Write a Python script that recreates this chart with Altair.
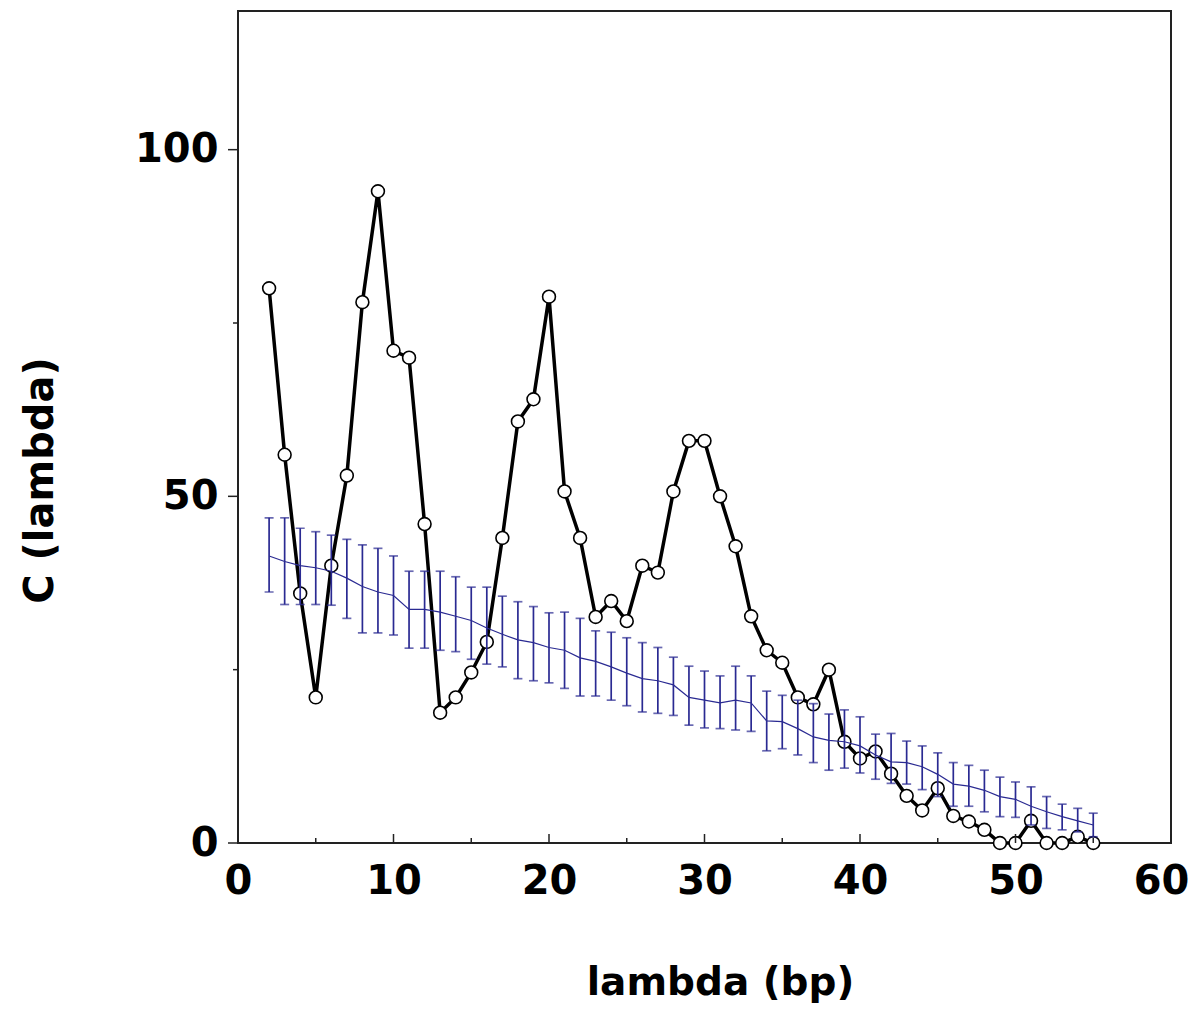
import altair as alt
import pandas as pd

# lambda positions (bp)
lam = [2, 3, 4, 5, 6, 7, 8, 9, 10, 11,
       12, 13, 14, 15, 16, 17, 18, 19, 20, 21,
       22, 23, 24, 25, 26, 27, 28, 29, 30, 31,
       32, 33, 34, 35, 36, 37, 38, 39, 40, 41,
       42, 43, 44, 45, 46, 47, 48, 49, 50, 51,
       52, 53, 54, 55]

# observed C(lambda) (black line with open circles)
observed = [80, 56, 36, 21, 40, 53, 78, 94, 71, 70,
            46, 18.8, 21, 24.6, 29, 44, 60.8, 64, 78.8, 50.7,
            44, 32.6, 34.9, 32, 40, 39, 50.7, 58, 58, 50,
            42.8, 32.7, 27.8, 26, 21, 20, 25, 14.6, 12.2, 13.2,
            10, 6.8, 4.7, 7.9, 3.9, 3.1, 1.9, 0, 0, 3.2,
            0, 0, 0.9, 0]

# random expectation (blue line with error bars)
rand_mean = [41.4, 40.6, 40, 39.7, 39.2, 38.2, 37, 36.2, 35.7, 33.7,
             33.7, 33.3, 32.7, 32.1, 31, 30.1, 29.3, 28.9, 28.2, 27.8,
             26.7, 26.2, 25.4, 24.5, 23.7, 23.4, 22.8, 21, 20.6, 20.2,
             20.6, 20.2, 17.6, 17.5, 16.5, 15.3, 14.8, 14.6, 14, 12.7,
             11.7, 11.6, 11, 9.9, 8.5, 8.2, 7.6, 6.7, 6.3, 5.3,
             4.5, 3.8, 3.2, 2.6]
rand_hi = [46.9, 46.9, 45.4, 44.9, 44.4, 43.8, 43, 42.5, 41.4, 39.2,
           39.2, 39.2, 38.4, 36.9, 36.9, 35.6, 34.8, 34.1, 33.2, 33.3,
           32.4, 30.6, 30.4, 29.6, 28.9, 28.2, 26.8, 25.5, 24.8, 24.1,
           25.5, 24.1, 21.9, 21.3, 20.6, 20.1, 18.6, 19.2, 18.2, 15.7,
           15.8, 14.7, 14, 13, 11.6, 11.2, 10.5, 9.5, 8.8, 8.1,
           6.7, 5.6, 5, 4.3]
rand_lo = [36.2, 34.4, 34.4, 34.4, 34.3, 32.4, 30.3, 30.3, 30, 28.1,
           28.1, 27.8, 27.6, 26.5, 25.8, 25.4, 23.7, 23.4, 23.1, 22.3,
           21.2, 21.2, 20.6, 19.8, 18.9, 18.7, 18.4, 17, 16.6, 16.5,
           16.3, 16.1, 13.3, 13.6, 12.7, 11.6, 10.5, 10.8, 10.1, 9.2,
           8.6, 8.5, 7.7, 6.7, 5.3, 5.3, 4.5, 3.8, 3.7, 2.6,
           2.1, 1.9, 1.6, 0.9]

x_major = [0, 10, 20, 30, 40, 50, 60]
x_minor = [5, 15, 25, 35, 45, 55]
y_major = [0, 50, 100]
y_minor = [25, 75]

df = pd.DataFrame({"lam": lam, "obs": observed, "mean": rand_mean,
                   "hi": rand_hi, "lo": rand_lo})

W, H = 933, 832
FONT = "DejaVu Sans"
BLUE = "#2a2a92"

xs = alt.Scale(domain=[0, 60], nice=False, zero=False)
ys = alt.Scale(domain=[0, 120], nice=False)

xaxis = alt.Axis(values=x_major, ticks=False, domain=False, grid=False,
                 labelFont=FONT, labelFontSize=40, labelFontWeight="bold",
                 labelColor="black", labelPadding=18, labelFlush=False,
                 labelOffset={"condition": {"test": "datum.value == 60", "value": -10},
                              "value": 0},
                 titleFont=FONT, titleFontSize=39, titleFontWeight="bold",
                 titleColor="black", titleX=482, titleY=139,
                 titleBaseline="middle", titleAlign="center")
yaxis = alt.Axis(values=y_major, ticks=False, domain=False, grid=False,
                 labelFont=FONT, labelFontSize=40, labelFontWeight="bold",
                 labelColor="black", labelPadding=20, labelFlush=False,
                 labelBaseline="middle",
                 titleFont=FONT, titleFontSize=40, titleFontWeight="bold",
                 titleColor="black", titleX=-198, titleY=469,
                 titleAngle=-90, titleBaseline="middle", titleAlign="center")


def X(field):
    return alt.X(field, type="quantitative", scale=xs, axis=xaxis, title="lambda (bp)")


def Y(field):
    return alt.Y(field, type="quantitative", scale=ys, axis=yaxis, title="C (lambda)")


base = alt.Chart(df)

obs_line = base.mark_line(color="black", strokeWidth=3.5).encode(
    x=X("lam"), y=Y("obs"))
obs_pts = base.mark_point(shape="circle", filled=True, fill="white",
                          stroke="black", strokeWidth=1.6, size=165,
                          opacity=1).encode(x=X("lam"), y=Y("obs"))

rand_line = base.mark_line(color=BLUE, strokeWidth=1.2).encode(
    x=X("lam"), y=Y("mean"))
rand_bar = base.mark_rule(color=BLUE, strokeWidth=1.7).encode(
    x=X("lam"), y=Y("lo"), y2="hi")
cap_hi = base.mark_tick(color=BLUE, orient="horizontal", size=9,
                        thickness=1.7).encode(x=X("lam"), y=Y("hi"))
cap_lo = base.mark_tick(color=BLUE, orient="horizontal", size=9,
                        thickness=1.7).encode(x=X("lam"), y=Y("lo"))

xt_major = alt.Chart(pd.DataFrame({"lam": x_major})).mark_rule(
    color="#222", strokeWidth=1.5).encode(
    x=X("lam"), y=alt.value(H), y2=alt.value(H - 9))
xt_minor = alt.Chart(pd.DataFrame({"lam": x_minor})).mark_rule(
    color="#222", strokeWidth=1.5).encode(
    x=X("lam"), y=alt.value(H), y2=alt.value(H - 5))
yt_major = alt.Chart(pd.DataFrame({"obs": y_major})).mark_rule(
    color="#222", strokeWidth=1.5).encode(
    y=Y("obs"), x=alt.value(0), x2=alt.value(-10))
yt_minor = alt.Chart(pd.DataFrame({"obs": y_minor})).mark_rule(
    color="#222", strokeWidth=1.5).encode(
    y=Y("obs"), x=alt.value(0), x2=alt.value(-5))

chart = alt.layer(
    obs_line, obs_pts, rand_line, rand_bar, cap_hi, cap_lo,
    xt_major, xt_minor, yt_major, yt_minor
).properties(
    width=W, height=H,
    autosize=alt.AutoSizeParams(type="none"),
    padding={"left": 230, "top": 3, "right": 20, "bottom": 160},
    background="white",
).configure_view(
    stroke="#222", strokeWidth=2
)

chart.save("out.html", embed_options={"renderer": "svg", "actions": False})
